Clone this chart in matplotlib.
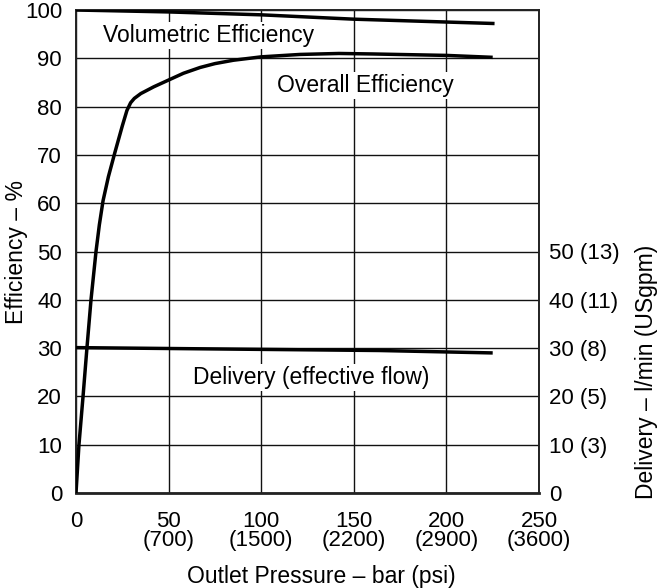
import matplotlib
matplotlib.use("Agg")
import matplotlib.pyplot as plt

plt.rcParams['font.family'] = ['Liberation Sans', 'DejaVu Sans']

# Data
vol_x = [0, 50, 100, 150, 226]
vol_y = [100.0, 99.6, 99.0, 98.1, 97.2]

ovr_x = [0, 1.6, 3.8, 5.9, 8.1, 10.8, 12.6, 14.6, 17.5, 21, 25, 27.5, 29.5, 31.5, 35, 42, 50, 58, 67, 75, 85, 100, 121, 142, 160, 200, 225]
ovr_y = [0, 10, 20, 30, 40, 50, 55.5, 60.5, 65.5, 70.5, 76, 79.2, 80.8, 81.7, 82.7, 84.1, 85.5, 86.9, 88.1, 88.9, 89.6, 90.3, 90.8, 91.0, 90.9, 90.6, 90.2]

del_x = [0, 164, 225]
del_y = [30.1, 29.5, 29.0]

x_ticks = [0, 50, 100, 150, 200, 250]
x_labels = ["0", "50\n(700)", "100\n(1500)", "150\n(2200)", "200\n(2900)", "250\n(3600)"]
y_ticks = [0, 10, 20, 30, 40, 50, 60, 70, 80, 90, 100]
r_ticks = [0, 10, 20, 30, 40, 50]
r_labels = ["0", "10 (3)", "20 (5)", "30 (8)", "40 (11)", "50 (13)"]

fig = plt.figure(figsize=(6.61, 5.88), dpi=100)
ax = fig.add_axes([76/661, 95/588, 463/661, 483/588])
ax.set_xlim(0, 250)
ax.set_ylim(0, 100)

FS = 16.5
TS = 16
ax.set_xticks(x_ticks)
ax.set_xticklabels(x_labels, fontsize=TS)
for lab in ax.get_xticklabels():
    lab.set_linespacing(0.9)
ax.set_yticks(y_ticks)
ax.set_yticklabels([str(v) for v in y_ticks], fontsize=TS)
ax.tick_params(axis='x', length=0, pad=13)
ax.tick_params(axis='y', length=0, pad=10)

ax.grid(True, color='#111111', linewidth=1.0)
ax.set_axisbelow(True)
for s in ax.spines.values():
    s.set_linewidth(1.4)
    s.set_color('#222222')
ax.spines['bottom'].set_linewidth(2.0)

ax.plot(vol_x, vol_y, color='black', linewidth=2.5, solid_capstyle='butt', zorder=3)
ax.plot(ovr_x, ovr_y, color='black', linewidth=2.5, solid_capstyle='butt', solid_joinstyle='round', zorder=3)
ax.plot(del_x, del_y, color='black', linewidth=2.5, solid_capstyle='butt', zorder=3)

ax2 = ax.twinx()
ax2.set_ylim(0, 100)
ax2.set_yticks(r_ticks)
ax2.set_yticklabels(r_labels, fontsize=TS)
ax2.tick_params(axis='y', length=0, pad=7)
for s in ax2.spines.values():
    s.set_visible(False)

bbox = dict(facecolor='white', edgecolor='none', pad=1.5)
ax.text(71.8, 94.8, "Volumetric Efficiency", fontsize=FS, ha='center', va='center', bbox=bbox, zorder=4)
ax.text(156, 84.4, "Overall Efficiency", fontsize=FS, ha='center', va='center', bbox=bbox, zorder=4)
ax.text(127, 24.0, "Delivery (effective flow)", fontsize=FS, ha='center', va='center', bbox=bbox, zorder=4)

ax.text((17-76)/463, 0.5, "Efficiency – %", transform=ax.transAxes, rotation=90,
        ha='center', va='center', fontsize=FS)
ax.text((647-76)/463, 0.25, "Delivery – l/min (USgpm)", transform=ax.transAxes, rotation=90,
        ha='center', va='center', fontsize=FS)
ax.text((321-76)/463, (493-577)/483, "Outlet Pressure – bar (psi)", transform=ax.transAxes,
        ha='center', va='center', fontsize=FS)

fig.savefig("out.png", dpi=100)
